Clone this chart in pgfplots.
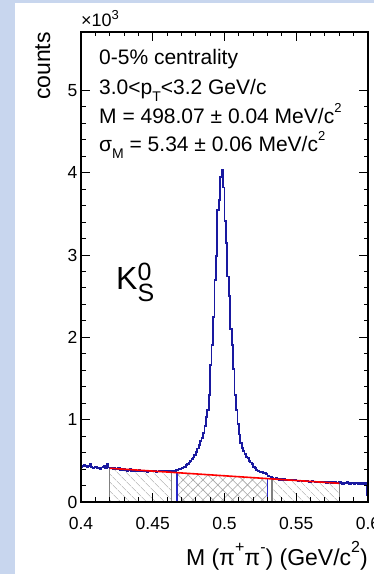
\documentclass[border=0pt]{standalone}
\usepackage{pgfplots}
\pgfplotsset{compat=1.18}
\usepackage{fontspec}
\setmainfont{Liberation Sans}
\usetikzlibrary{patterns.meta}
\definecolor{bgblue}{RGB}{200,214,238}
\definecolor{histblue}{RGB}{25,25,160}
\definecolor{sigblue}{RGB}{40,40,200}
\newcommand{\fs}[1]{\fontsize{#1}{#1}\selectfont}
\newcommand{\sub}[2][14]{\raisebox{-0.3em}{\fs{#1}#2}}
\newcommand{\sups}[2][13]{\raisebox{0.55em}{\fs{#1}#2}}
\begin{document}
\begin{tikzpicture}
\useasboundingbox (0,0) rectangle (374pt,574pt);
\clip (0,0) rectangle (374pt,574pt);
\fill[bgblue] (0,0) rectangle (374pt,574pt);
\fill[white] (15pt,0) rectangle (374pt,571pt);
\begin{axis}[at={(81pt,72pt)}, anchor=south west, scale only axis,
  width=287pt, height=470pt,
  xmin=0.4, xmax=0.6, ymin=0, ymax=5.71,
  xtick={0.4,0.45,0.5,0.55,0.6}, xticklabels={0.4,0.45,0.5,0.55,0.6},
  ytick={0,1,2,3,4,5}, yticklabels={0,1,2,3,4,5},
  minor x tick num=4, minor y tick num=4,
  tick align=inside, major tick length=9pt, minor tick length=4.5pt,
  axis line style={line width=1.3pt},
  every tick/.append style={black, line width=1pt},
  tick label style={font=\fs{17.5}},
  xticklabel style={yshift=-12pt},
  axis on top, clip=true]
% sideband and signal regions
\addplot[draw=none, pattern={Lines[angle=-45,distance=6.5pt,line width=0.6pt]}, pattern color=black!35]
  coordinates {(0.42,0) (0.42,0.41) (0.463,0.3608) (0.463,0)} -- cycle;
\addplot[draw=none, pattern={Lines[angle=-45,distance=6.5pt,line width=0.6pt]}, pattern color=black!35]
  coordinates {(0.533,0) (0.533,0.2808) (0.58,0.227) (0.58,0)} -- cycle;
\addplot[draw=none, pattern={Hatch[angle=45,distance=7pt,line width=0.6pt]}, pattern color=black!35]
  coordinates {(0.467,0) (0.467,0.3562) (0.530,0.2842) (0.530,0)} -- cycle;
\addplot[gray, line width=1.5pt] coordinates {(0.42,0) (0.42,0.41)};
\addplot[gray, line width=1.5pt] coordinates {(0.463,0) (0.463,0.3608)};
\addplot[gray, line width=1.5pt] coordinates {(0.533,0) (0.533,0.2808)};
\addplot[gray, line width=1.5pt] coordinates {(0.58,0) (0.58,0.227)};
\addplot[sigblue, line width=1.5pt] coordinates {(0.467,0) (0.467,0.3562)};
\addplot[sigblue, line width=1.5pt] coordinates {(0.530,0) (0.530,0.2842)};
% histogram (1 MeV bins, left edges)
\addplot[const plot, histblue, line width=1.8pt] table[row sep=\\] {
x y\\
0.400 0.42\\ 0.401 0.44\\ 0.402 0.45\\ 0.403 0.44\\ 0.404 0.43\\ 0.405 0.44\\ 0.406 0.46\\ 0.407 0.43\\ 0.408 0.41\\ 0.409 0.42\\
0.410 0.43\\ 0.411 0.41\\ 0.412 0.42\\ 0.413 0.40\\ 0.414 0.42\\ 0.415 0.43\\ 0.416 0.44\\ 0.417 0.41\\ 0.418 0.46\\ 0.419 0.42\\
0.420 0.41\\ 0.421 0.41\\ 0.422 0.40\\ 0.423 0.41\\ 0.424 0.40\\ 0.425 0.40\\ 0.426 0.41\\ 0.427 0.39\\ 0.428 0.40\\ 0.429 0.39\\
0.430 0.40\\ 0.431 0.39\\ 0.432 0.38\\ 0.433 0.39\\ 0.434 0.40\\ 0.435 0.38\\ 0.436 0.39\\ 0.437 0.38\\ 0.438 0.37\\ 0.439 0.38\\
0.440 0.39\\ 0.441 0.38\\ 0.442 0.37\\ 0.443 0.38\\ 0.444 0.38\\ 0.445 0.37\\ 0.446 0.36\\ 0.447 0.38\\ 0.448 0.37\\ 0.449 0.38\\
0.450 0.37\\ 0.451 0.38\\ 0.452 0.36\\ 0.453 0.37\\ 0.454 0.38\\ 0.455 0.37\\ 0.456 0.38\\ 0.457 0.37\\ 0.458 0.38\\ 0.459 0.37\\
0.460 0.38\\ 0.461 0.38\\ 0.462 0.37\\ 0.463 0.38\\ 0.464 0.38\\ 0.465 0.38\\ 0.466 0.39\\ 0.467 0.39\\ 0.468 0.40\\ 0.469 0.40\\
0.470 0.41\\ 0.471 0.42\\ 0.472 0.43\\ 0.473 0.45\\ 0.474 0.46\\ 0.475 0.48\\ 0.476 0.50\\ 0.477 0.52\\ 0.478 0.54\\ 0.479 0.57\\
0.480 0.61\\ 0.481 0.65\\ 0.482 0.69\\ 0.483 0.74\\ 0.484 0.78\\ 0.485 0.84\\ 0.486 0.92\\ 0.487 1.03\\ 0.488 1.12\\ 0.489 1.30\\
0.490 1.66\\ 0.491 1.91\\ 0.492 2.25\\ 0.493 2.70\\ 0.494 2.99\\ 0.495 3.55\\ 0.496 3.67\\ 0.497 3.95\\ 0.498 4.04\\ 0.499 3.82\\
0.500 3.41\\ 0.501 3.15\\ 0.502 2.74\\ 0.503 2.50\\ 0.504 2.10\\ 0.505 1.91\\ 0.506 1.62\\ 0.507 1.30\\ 0.508 1.12\\ 0.509 0.95\\
0.510 0.82\\ 0.511 0.72\\ 0.512 0.66\\ 0.513 0.62\\ 0.514 0.58\\ 0.515 0.55\\ 0.516 0.53\\ 0.517 0.50\\ 0.518 0.48\\ 0.519 0.46\\
0.520 0.43\\ 0.521 0.41\\ 0.522 0.39\\ 0.523 0.38\\ 0.524 0.37\\ 0.525 0.36\\ 0.526 0.36\\ 0.527 0.35\\ 0.528 0.35\\ 0.529 0.34\\
0.530 0.32\\ 0.531 0.31\\ 0.532 0.30\\ 0.533 0.29\\ 0.534 0.28\\ 0.535 0.28\\ 0.536 0.29\\ 0.537 0.28\\ 0.538 0.27\\ 0.539 0.28\\
0.540 0.27\\ 0.541 0.28\\ 0.542 0.27\\ 0.543 0.26\\ 0.544 0.27\\ 0.545 0.27\\ 0.546 0.26\\ 0.547 0.27\\ 0.548 0.26\\ 0.549 0.27\\
0.550 0.26\\ 0.551 0.25\\ 0.552 0.26\\ 0.553 0.26\\ 0.554 0.25\\ 0.555 0.26\\ 0.556 0.25\\ 0.557 0.26\\ 0.558 0.25\\ 0.559 0.24\\
0.560 0.25\\ 0.561 0.26\\ 0.562 0.25\\ 0.563 0.24\\ 0.564 0.25\\ 0.565 0.24\\ 0.566 0.25\\ 0.567 0.24\\ 0.568 0.24\\ 0.569 0.25\\
0.570 0.24\\ 0.571 0.23\\ 0.572 0.24\\ 0.573 0.24\\ 0.574 0.23\\ 0.575 0.24\\ 0.576 0.23\\ 0.577 0.24\\ 0.578 0.23\\ 0.579 0.23\\
0.580 0.24\\ 0.581 0.23\\ 0.582 0.22\\ 0.583 0.23\\ 0.584 0.23\\ 0.585 0.24\\ 0.586 0.23\\ 0.587 0.22\\ 0.588 0.23\\ 0.589 0.23\\
0.590 0.22\\ 0.591 0.23\\ 0.592 0.23\\ 0.593 0.22\\ 0.594 0.23\\ 0.595 0.22\\ 0.596 0.23\\ 0.597 0.22\\ 0.598 0.23\\ 0.599 0.08\\
0.600 0.08\\
};
% linear background fit
\addplot[red, line width=1.6pt] coordinates {(0.42,0.41) (0.58,0.227)};
\end{axis}
% texts
\node[anchor=base west, inner sep=0pt, font=\fs{18}] at (81pt,547pt) {×10\raisebox{7pt}{\fs{13}3}};
\node[rotate=90, anchor=base east, inner sep=0pt, font=\fs{23}] at (50pt,542pt) {counts};
\node[anchor=base east, inner sep=0pt, font=\fs{23}] at (368pt,9pt) {M (π\sups[16]{+}π\sups[16]{-}) (GeV/c\sups[16]{2})};
\node[anchor=base west, inner sep=0pt, font=\fs{21}] at (99pt,509pt) {0-5\% centrality};
\node[anchor=base west, inner sep=0pt, font=\fs{21}] at (99pt,479pt) {3.0<p\sub{T}<3.2 GeV/c};
\node[anchor=base west, inner sep=0pt, font=\fs{21}] at (99pt,450pt) {M = 498.07 ± 0.04 MeV/c\sups{2}};
\node[anchor=base west, inner sep=0pt, font=\fs{21}] at (99pt,422pt) {σ\sub{M} = 5.34 ± 0.06 MeV/c\sups{2}};
\node[anchor=base west, inner sep=0pt] at (116pt,284pt) {\fs{32}K\rlap{\raisebox{9pt}{\fs{25}0}}\raisebox{-11.5pt}{\fs{25}S}};
\end{tikzpicture}
\end{document}
